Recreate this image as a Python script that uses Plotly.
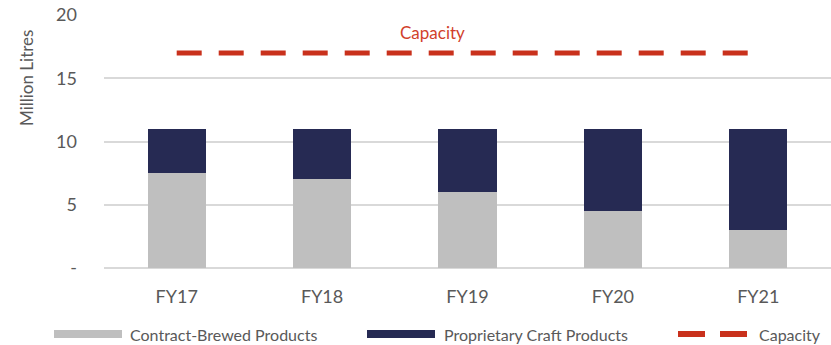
import plotly.graph_objects as go

# Volumes in million litres
years = ["FY17", "FY18", "FY19", "FY20", "FY21"]
contract_brewed = [7.5, 7.0, 6.0, 4.5, 3.0]
proprietary_craft = [3.5, 4.0, 5.0, 6.5, 8.0]
capacity = [17, 17, 17, 17, 17]

y_ticks = [0, 5, 10, 15, 20]
y_tick_text = ["-", "5", "10", "15", "20"]

FONT = "Lato, 'Open Sans', sans-serif"
GREY_TEXT = "#595959"
RED = "#C9311C"
GREY_BAR = "#BFBFBF"
NAVY_BAR = "#262A53"

W, H = 831, 345
M_L, M_R, M_T, M_B = 104, 0, 15, 77
PW, PH = W - M_L - M_R, H - M_T - M_B


def px_x(px):
    return (px - M_L) / PW


def px_y(py):
    return (H - M_B - py) / PH


fig = go.Figure()

fig.add_trace(go.Bar(
    x=years, y=contract_brewed, name="Contract-Brewed Products",
    marker=dict(color=GREY_BAR, line=dict(width=0)),
))
fig.add_trace(go.Bar(
    x=years, y=proprietary_craft, name="Proprietary Craft Products",
    marker=dict(color=NAVY_BAR, line=dict(width=0)),
))
fig.add_trace(go.Scatter(
    x=years, y=capacity, name="Capacity", mode="lines",
    line=dict(color=RED, width=5, dash="25px,17px"),
))

fig.add_annotation(
    x=1.76, y=18.6, text="Capacity", showarrow=False,
    font=dict(family=FONT, size=17, color="#D13F2B"),
)

# Axis title placed near the top of the value axis
fig.add_annotation(
    xref="paper", yref="paper", x=px_x(26), y=px_y(78),
    text="Million Litres", textangle=-90, showarrow=False,
    xanchor="center", yanchor="middle",
    font=dict(family=FONT, size=17, color=GREY_TEXT),
)

# Legend row drawn below the category axis
legend_y = 334
legend_items = [
    ("bar", GREY_BAR, 54, 122, 128, "Contract-Brewed Products"),
    ("bar", NAVY_BAR, 367, 435, 442, "Proprietary Craft Products"),
    ("dash", RED, 678, 747, 757, "Capacity"),
]
for kind, color, x0, x1, tx, label in legend_items:
    if kind == "bar":
        fig.add_shape(
            type="rect", xref="paper", yref="paper",
            x0=px_x(x0), x1=px_x(x1), y0=px_y(legend_y - 4), y1=px_y(legend_y + 4),
            fillcolor=color, line=dict(width=0), layer="above",
        )
    else:
        fig.add_shape(
            type="line", xref="paper", yref="paper",
            x0=px_x(x0), x1=px_x(x1), y0=px_y(legend_y), y1=px_y(legend_y),
            line=dict(color=color, width=6, dash="27px,15px"),
        )
    fig.add_annotation(
        xref="paper", yref="paper", x=px_x(tx), y=px_y(legend_y),
        text=label, showarrow=False, xanchor="left", yanchor="middle",
        font=dict(family=FONT, size=16, color=GREY_TEXT),
    )

fig.update_layout(
    width=W, height=H,
    margin=dict(l=M_L, r=M_R, t=M_T, b=M_B),
    barmode="stack", bargap=0.6,
    plot_bgcolor="white", paper_bgcolor="white",
    font=dict(family=FONT, color=GREY_TEXT),
    showlegend=False,
    xaxis=dict(
        tickfont=dict(family=FONT, size=18, color=GREY_TEXT),
        showgrid=False, showline=False,
        ticks="outside", ticklen=12, tickcolor="rgba(0,0,0,0)",
    ),
    yaxis=dict(
        range=[0, 20], tickvals=y_ticks, ticktext=y_tick_text,
        tickfont=dict(family=FONT, size=18, color=GREY_TEXT),
        showgrid=True, gridcolor="#D9D9D9", gridwidth=1.5,
        zeroline=True, zerolinecolor="#D9D9D9", zerolinewidth=1.5,
        ticklabelstandoff=26,
    ),
)

fig.write_html("out.html")
